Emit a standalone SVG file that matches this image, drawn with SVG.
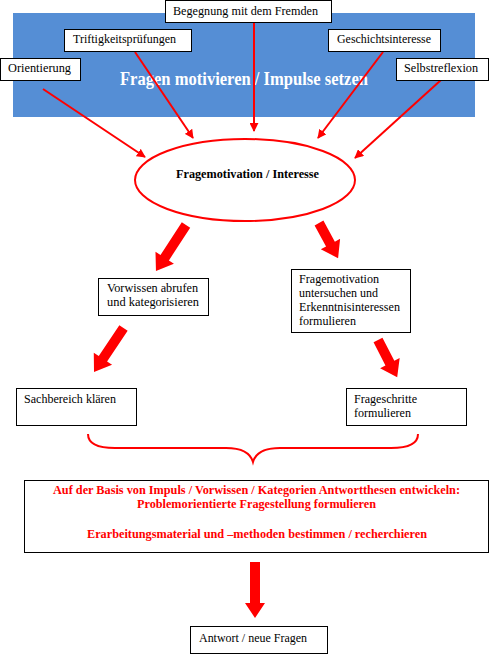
<svg xmlns="http://www.w3.org/2000/svg" width="490" height="654" viewBox="0 0 490 654">
<style>
.box{fill:#fff;stroke:#000;stroke-width:1}
.t{font-family:"Liberation Serif","Times New Roman",serif;font-size:12px;fill:#000}
.rb{font-family:"Liberation Serif","Times New Roman",serif;font-size:12px;font-weight:bold;fill:#f00}
.ln{stroke:#f00;stroke-width:2;fill:none;marker-end:url(#ah)}
.blk{fill:#f00}
</style>
<defs>
<marker id="ah" viewBox="0 0 10 10" refX="9" refY="5" markerWidth="4.5" markerHeight="4.5" orient="auto" markerUnits="strokeWidth">
<path d="M0,0 L10,5 L0,10 z" fill="#f00"/>
</marker>
</defs>
<rect width="490" height="654" fill="#fff"/>
<g id="banner">
<rect x="13" y="13" width="462" height="104" fill="#558ED5"/>
<text x="120" y="85" textLength="248" lengthAdjust="spacingAndGlyphs" style="font-family:'Liberation Serif','Times New Roman',serif;font-size:18px;font-weight:bold;fill:#fff">Fragen motivieren  / Impulse setzen</text>
</g>
<g id="connectors">
<line class="ln" x1="43" y1="89" x2="145" y2="157"/>
<line class="ln" x1="135" y1="52" x2="193" y2="138"/>
<line class="ln" x1="254" y1="23" x2="254" y2="131"/>
<line class="ln" x1="383" y1="52" x2="318" y2="138"/>
<line class="ln" x1="441" y1="80" x2="355" y2="158"/>
<path class="blk" transform="translate(186,225) rotate(123.1)" d="M0,-5 L39,-5 L39,-11 L55,0 L39,11 L39,5 L0,5 z"/>
<path class="blk" transform="translate(319,223) rotate(61.5)" d="M0,-5 L24,-5 L24,-11 L40,0 L24,11 L24,5 L0,5 z"/>
<path class="blk" transform="translate(123.5,328) rotate(123.8)" d="M0,-5 L37,-5 L37,-11 L53,0 L37,11 L37,5 L0,5 z"/>
<path class="blk" transform="translate(378,340) rotate(62.8)" d="M0,-5 L26,-5 L26,-11 L42,0 L26,11 L26,5 L0,5 z"/>
<path class="blk" d="M250,562 L260,562 L260,603 L265,603 L255,618 L245,603 L250,603 z"/>
<path d="M88,434 Q88,448 115,448 L226,448 Q249,448 253,462 Q257,448 280,448 L391,448 Q418,448 418,434" stroke="#f00" stroke-width="2" fill="none"/>
</g>
<g id="n-begegnung">
<rect class="box" x="165.5" y="0.5" width="166" height="22"/>
<text class="t" x="173" y="15" textLength="145" lengthAdjust="spacingAndGlyphs">Begegnung mit dem Fremden</text>
</g>
<g id="n-triftig">
<rect class="box" x="64.5" y="29.5" width="127" height="22"/>
<text class="t" x="73" y="43" textLength="103" lengthAdjust="spacingAndGlyphs">Triftigkeitsprüfungen</text>
</g>
<g id="n-geschichte">
<rect class="box" x="328.5" y="29.5" width="112" height="22"/>
<text class="t" x="337" y="43" textLength="94" lengthAdjust="spacingAndGlyphs">Geschichtsinteresse</text>
</g>
<g id="n-orientierung">
<rect class="box" x="0.5" y="58.5" width="80" height="22"/>
<text class="t" x="8" y="72" textLength="63" lengthAdjust="spacingAndGlyphs">Orientierung</text>
</g>
<g id="n-selbst">
<rect class="box" x="396.5" y="58.5" width="92" height="22"/>
<text class="t" x="404" y="72" textLength="74" lengthAdjust="spacingAndGlyphs">Selbstreflexion</text>
</g>
<g id="n-frage">
<ellipse cx="245" cy="180" rx="110" ry="41" fill="#fff" stroke="#f00" stroke-width="2"/>
<text x="176" y="178" textLength="143" lengthAdjust="spacingAndGlyphs" style="font-family:'Liberation Serif','Times New Roman',serif;font-size:12px;font-weight:bold;fill:#000">Fragemotivation / Interesse</text>
</g>
<g id="n-vorwissen">
<rect class="box" x="98.5" y="278.5" width="110" height="37"/>
<text class="t" x="107" y="292" textLength="91" lengthAdjust="spacingAndGlyphs">Vorwissen abrufen</text>
<text class="t" x="107" y="306" textLength="92" lengthAdjust="spacingAndGlyphs">und kategorisieren</text>
</g>
<g id="n-untersuchen">
<rect class="box" x="291.5" y="269.5" width="119" height="63"/>
<text class="t" x="299" y="283" textLength="80" lengthAdjust="spacingAndGlyphs">Fragemotivation</text>
<text class="t" x="299" y="297" textLength="79" lengthAdjust="spacingAndGlyphs">untersuchen und</text>
<text class="t" x="299" y="311" textLength="101" lengthAdjust="spacingAndGlyphs">Erkenntnisinteressen</text>
<text class="t" x="299" y="325" textLength="57" lengthAdjust="spacingAndGlyphs">formulieren</text>
</g>
<g id="n-sachbereich">
<rect class="box" x="16.5" y="388.5" width="120" height="37"/>
<text class="t" x="24" y="403" textLength="92" lengthAdjust="spacingAndGlyphs">Sachbereich klären</text>
</g>
<g id="n-frageschritte">
<rect class="box" x="346.5" y="388.5" width="120" height="37"/>
<text class="t" x="354" y="403" textLength="63" lengthAdjust="spacingAndGlyphs">Frageschritte</text>
<text class="t" x="354" y="417" textLength="57" lengthAdjust="spacingAndGlyphs">formulieren</text>
</g>
<g id="n-basis">
<rect class="box" x="24.5" y="480.5" width="464" height="72"/>
<text class="rb" x="53" y="494" textLength="407" lengthAdjust="spacingAndGlyphs">Auf der Basis von Impuls / Vorwissen / Kategorien Antwortthesen entwickeln:</text>
<text class="rb" x="137" y="508" textLength="239" lengthAdjust="spacingAndGlyphs">Problemorientierte Fragestellung formulieren</text>
<text class="rb" x="87" y="538" textLength="340" lengthAdjust="spacingAndGlyphs">Erarbeitungsmaterial und –methoden bestimmen / recherchieren</text>
</g>
<g id="n-antwort">
<rect class="box" x="190.5" y="626.5" width="137" height="27"/>
<text class="t" x="199" y="642" textLength="108" lengthAdjust="spacingAndGlyphs">Antwort / neue Fragen</text>
</g>
</svg>
